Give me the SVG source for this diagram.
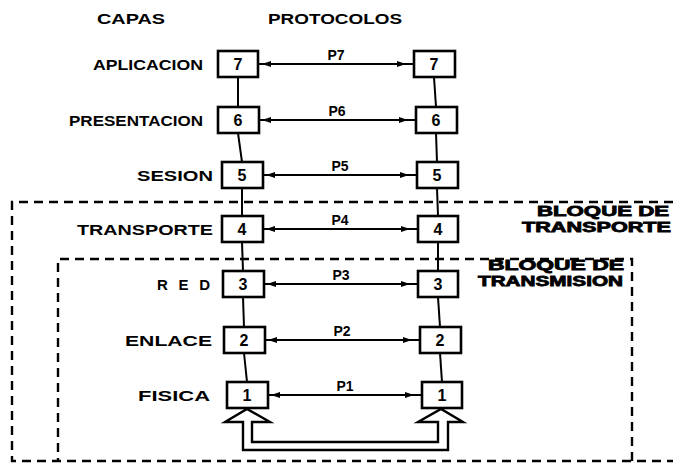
<svg xmlns="http://www.w3.org/2000/svg" width="673" height="466" viewBox="0 0 673 466">
<style>
text{font-family:"Liberation Sans",Arial,sans-serif;font-weight:bold;fill:#000}
.lab{font-size:15px;text-anchor:end}
.hdr{font-size:15px}
.num{font-size:16px;text-anchor:middle}
.p{font-size:14px;text-anchor:middle}
.blk{font-size:14px;stroke:#000;stroke-width:0.8}
.box{fill:#fff;stroke:#000;stroke-width:2.6}
.con{stroke:#000;stroke-width:2;fill:none}
.dash{stroke:#000;stroke-width:2.4;fill:none;stroke-dasharray:9 6}
</style>
<defs>
<marker id="ae" markerUnits="userSpaceOnUse" markerWidth="20" markerHeight="8" refX="17" refY="3" orient="auto"><path d="M0,0 L9,3 L0,6 z" fill="#000"/></marker>
<marker id="as" markerUnits="userSpaceOnUse" markerWidth="20" markerHeight="8" refX="12" refY="3" orient="auto-start-reverse"><path d="M0,0 L9,3 L0,6 z" fill="#000"/></marker>
</defs>
<rect width="673" height="466" fill="#fff"/>
<text class="hdr" x="97" y="24" textLength="68" lengthAdjust="spacingAndGlyphs">CAPAS</text>
<text class="hdr" x="268" y="24" textLength="134" lengthAdjust="spacingAndGlyphs">PROTOCOLOS</text>
<g id="blocks">
<path class="dash" d="M673,202 H12 V461 H673"/>
<path class="dash" d="M632,461 V259 H58 V461"/>
<text class="blk" x="537" y="216" textLength="132" lengthAdjust="spacingAndGlyphs">BLOQUE DE</text>
<text class="blk" x="522" y="232" textLength="149" lengthAdjust="spacingAndGlyphs">TRANSPORTE</text>
<text class="blk" x="488" y="270" textLength="136" lengthAdjust="spacingAndGlyphs">BLOQUE DE</text>
<text class="blk" x="478" y="286" textLength="145" lengthAdjust="spacingAndGlyphs">TRANSMISION</text>
</g>
<g id="connectors">
<line class="con" x1="238" y1="77" x2="238" y2="107"/>
<line class="con" x1="238" y1="133" x2="242" y2="162"/>
<line class="con" x1="242" y1="188" x2="242" y2="216"/>
<line class="con" x1="242" y1="242" x2="243" y2="271"/>
<line class="con" x1="243" y1="297" x2="244" y2="327"/>
<line class="con" x1="244" y1="353" x2="247" y2="382"/>
<line class="con" x1="434" y1="77" x2="436" y2="107"/>
<line class="con" x1="436" y1="133" x2="437" y2="162"/>
<line class="con" x1="437" y1="188" x2="438" y2="216"/>
<line class="con" x1="438" y1="242" x2="438" y2="271"/>
<line class="con" x1="438" y1="297" x2="440" y2="327"/>
<line class="con" x1="440" y1="353" x2="442" y2="382"/>
<line class="con" x1="259" y1="64" x2="414" y2="64" marker-start="url(#as)" marker-end="url(#ae)"/>
<line class="con" x1="259" y1="120" x2="416" y2="120" marker-start="url(#as)" marker-end="url(#ae)"/>
<line class="con" x1="263" y1="175" x2="417" y2="175" marker-start="url(#as)" marker-end="url(#ae)"/>
<line class="con" x1="263" y1="229" x2="418" y2="229" marker-start="url(#as)" marker-end="url(#ae)"/>
<line class="con" x1="264" y1="284" x2="418" y2="284" marker-start="url(#as)" marker-end="url(#ae)"/>
<line class="con" x1="265" y1="340" x2="420" y2="340" marker-start="url(#as)" marker-end="url(#ae)"/>
<line class="con" x1="268" y1="395" x2="422" y2="395" marker-start="url(#as)" marker-end="url(#ae)"/>
<text class="p" x="336" y="60">P7</text>
<text class="p" x="337" y="116">P6</text>
<text class="p" x="340" y="171">P5</text>
<text class="p" x="340" y="225">P4</text>
<text class="p" x="341" y="280">P3</text>
<text class="p" x="342" y="336">P2</text>
<text class="p" x="345" y="391">P1</text>
<polygon fill="#fff" stroke="#000" stroke-width="2.4" stroke-linejoin="miter" points="243,422 225,422 247,409 270,422 252,422 252,442 438,442 438,422 418,422 441,409 463,422 448,422 448,450 243,450"/>
</g>
<g id="n7"><text class="lab" x="203" y="70" textLength="110" lengthAdjust="spacingAndGlyphs">APLICACION</text>
<rect class="box" x="218" y="51" width="40" height="26"/><text class="num" x="238" y="70">7</text>
<rect class="box" x="414" y="51" width="41" height="26"/><text class="num" x="434" y="70">7</text></g>
<g id="n6"><text class="lab" x="203" y="126" textLength="134" lengthAdjust="spacingAndGlyphs">PRESENTACION</text>
<rect class="box" x="218" y="107" width="41" height="26"/><text class="num" x="238" y="126">6</text>
<rect class="box" x="416" y="107" width="41" height="26"/><text class="num" x="436" y="126">6</text></g>
<g id="n5"><text class="lab" x="213" y="181" textLength="76" lengthAdjust="spacingAndGlyphs">SESION</text>
<rect class="box" x="222" y="162" width="41" height="26"/><text class="num" x="242" y="181">5</text>
<rect class="box" x="417" y="162" width="41" height="26"/><text class="num" x="437" y="181">5</text></g>
<g id="n4"><text class="lab" x="213" y="235" textLength="136" lengthAdjust="spacingAndGlyphs">TRANSPORTE</text>
<rect class="box" x="222" y="216" width="41" height="26"/><text class="num" x="242" y="235">4</text>
<rect class="box" x="418" y="216" width="40" height="26"/><text class="num" x="438" y="235">4</text></g>
<g id="n3"><text class="lab" x="210" y="290" textLength="53">RED</text>
<rect class="box" x="223" y="271" width="41" height="26"/><text class="num" x="243" y="290">3</text>
<rect class="box" x="418" y="271" width="40" height="26"/><text class="num" x="438" y="290">3</text></g>
<g id="n2"><text class="lab" x="212" y="346" textLength="87" lengthAdjust="spacingAndGlyphs">ENLACE</text>
<rect class="box" x="224" y="327" width="41" height="26"/><text class="num" x="244" y="346">2</text>
<rect class="box" x="420" y="327" width="41" height="26"/><text class="num" x="440" y="346">2</text></g>
<g id="n1"><text class="lab" x="210" y="401" textLength="72" lengthAdjust="spacingAndGlyphs">FISICA</text>
<rect class="box" x="227" y="382" width="41" height="26"/><text class="num" x="247" y="401">1</text>
<rect class="box" x="422" y="382" width="40" height="26"/><text class="num" x="442" y="401">1</text></g>
</svg>
